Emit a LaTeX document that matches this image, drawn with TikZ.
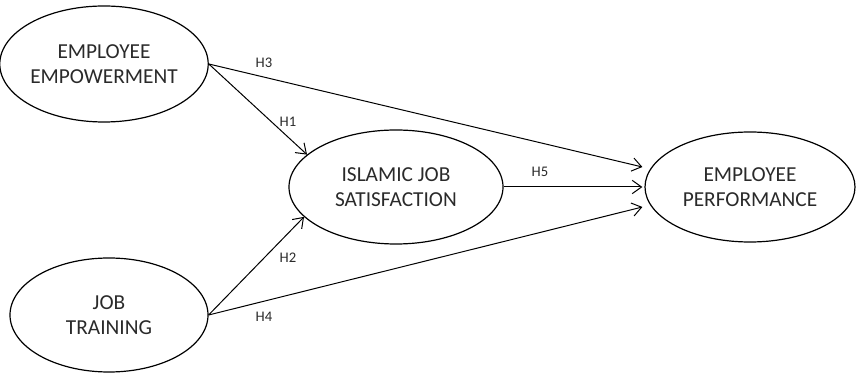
\documentclass[tikz,border=0pt]{standalone}
\usepackage{fontspec}
\setmainfont{Carlito}
\usetikzlibrary{shapes.geometric,arrows.meta}
\definecolor{txt}{HTML}{2A2A2A}
\tikzset{
  construct/.style={ellipse,draw,line width=0.9pt,inner sep=0pt,align=center,
    text=txt,font=\fontsize{16}{19}\selectfont},
  hyp/.style={text=txt,font=\fontsize{11}{12}\selectfont},
  path/.style={-{Straight Barb[length=7pt,width=10pt]},line width=0.75pt}
}
\begin{document}
\begin{tikzpicture}[x=0.75pt,y=-0.75pt]
 \useasboundingbox (0,0) rectangle (860,373);
 \node[construct,minimum width=141pt,minimum height=87pt] (ee)  at (104,64)  {EMPLOYEE\\EMPOWERMENT};
 \node[construct,minimum width=148.5pt,minimum height=85.5pt] (jt)  at (109,315) {JOB\\TRAINING};
 \node[construct,minimum width=160.5pt,minimum height=85.5pt] (isj) at (396,187) {ISLAMIC JOB\\SATISFACTION};
 \node[construct,minimum width=157.5pt,minimum height=82.5pt] (ep)  at (750,187) {EMPLOYEE\\PERFORMANCE};
 \draw[path] (ee.east) -- (isj.160);
 \draw[path] (jt.east) -- (isj.198);
 \draw[path] (ee.east) -- ([yshift=15pt,xshift=-1.5pt]ep.west);
 \draw[path] (jt.east) -- ([yshift=-15pt,xshift=-1.5pt]ep.west);
 \draw[path] (isj.east) -- ([xshift=-1.5pt]ep.west);
 \node[hyp] (h1) at (288,122) {H1};
 \node[hyp] (h2) at (288,258) {H2};
 \node[hyp] (h3) at (264,63)  {H3};
 \node[hyp] (h4) at (264,317) {H4};
 \node[hyp] (h5) at (540,172) {H5};
\end{tikzpicture}
\end{document}
